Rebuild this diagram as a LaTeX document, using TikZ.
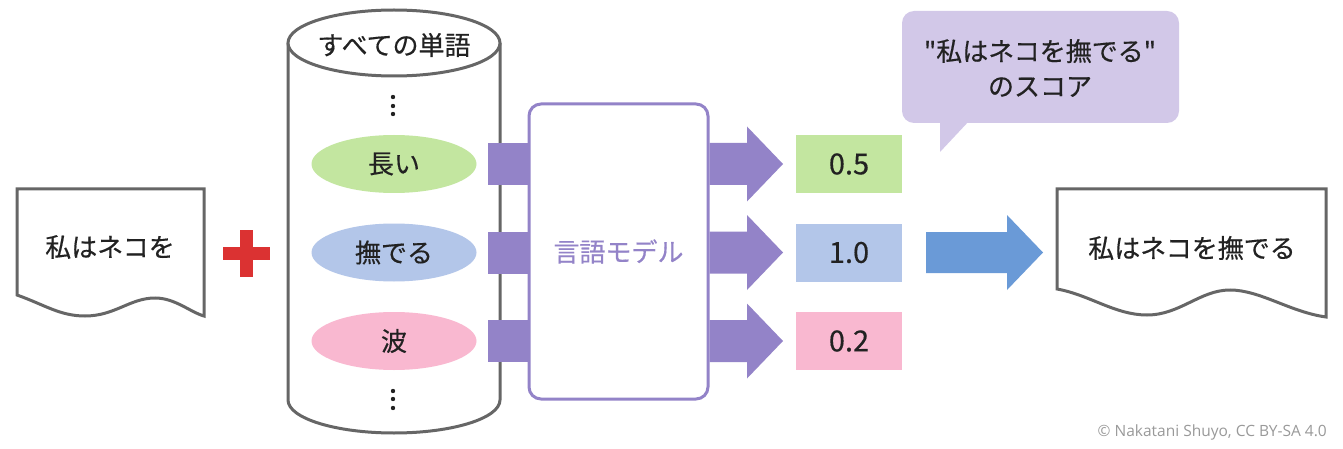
\documentclass[tikz,border=0pt]{standalone}
\usepackage{fontspec}
\setmainfont{Noto Sans CJK JP}[Ligatures=TeXOff, FakeBold=0.4]
\newfontfamily\latinfont{Open Sans}
\usetikzlibrary{shapes.geometric}
\definecolor{docgray}{HTML}{666666}
\definecolor{plusred}{HTML}{DB3232}
\definecolor{mpurple}{HTML}{9383C8}
\definecolor{wgreen}{HTML}{C3E6A0}
\definecolor{wblue}{HTML}{B3C6E9}
\definecolor{wpink}{HTML}{F9B8D0}
\definecolor{barrow}{HTML}{6A9AD7}
\definecolor{bubble}{HTML}{D2C8E8}
\definecolor{txt}{HTML}{222222}
\definecolor{copy}{HTML}{999999}
\begin{document}
\begin{tikzpicture}[x=1pt,y=-1pt,
  jtext/.style={font=\fontsize{26}{35}\selectfont, text=txt, inner sep=0pt},
  wordell/.style={ellipse, minimum width=165, minimum height=58, inner sep=0pt, font=\fontsize{26}{32}\selectfont, text=txt},
  scorebox/.style={rectangle, minimum width=106, minimum height=58, inner sep=0pt, font=\fontsize{29}{32}\selectfont, text=txt},
  docline/.style={draw=docgray, line width=3, fill=white, line join=miter},
  dotmark/.style={fill=txt}
]
\useasboundingbox (0,0) rectangle (1343,449);

% left document
\draw[docline] (17,295) -- (17,189) -- (204,189) -- (204,316)
  .. controls (190,312) and (175,298) .. (155,298)
  .. controls (130,298) and (115,316) .. (85,316)
  .. controls (60,316) and (45,305) .. (17,295) -- cycle;
\node[jtext] (src) at (110,247) {私はネコを};

% plus
\fill[plusred] (223,247) rectangle (270,260);
\fill[plusred] (240,230) rectangle (253,277);

% cylinder
\draw[docline] (288,43) -- (288,400) arc[start angle=180, end angle=0, x radius=106, y radius=33] -- (500,43);
\draw[docline] (394,43) ellipse[x radius=106, y radius=33];
\node[jtext] (allw) at (394,45) {すべての単語};
\foreach \yy in {97,106,114,391,399,408} \fill[dotmark] (393,\yy) circle[radius=2.2];

\node[wordell, fill=wgreen] (w1) at (394,164) {長い};
\node[wordell, fill=wblue] (w2) at (394,252.5) {撫でる};
\node[wordell, fill=wpink] (w3) at (394,341) {波};

% input bars
\foreach \c in {164,252.5,341} \fill[mpurple] (488,\c-21) rectangle (531,\c+21);

% model
\node[draw=mpurple, line width=3, rounded corners=12, minimum width=179, minimum height=295, fill=white,
  font=\fontsize{26}{32}\selectfont, text=mpurple] (lm) at (618.5,251.5) {言語モデル};

% output arrows
\foreach \c in {164,252.5,341}
  \fill[mpurple] (lm.east |- 0,\c-21) -- (747,\c-21) -- (747,\c-37.5) -- (783,\c) -- (747,\c+37.5) -- (747,\c+21) -- (lm.east |- 0,\c+21) -- cycle;

% scores
\node[scorebox, fill=wgreen] (s1) at (849,164) {0.5};
\node[scorebox, fill=wblue] (s2) at (849,252.5) {1.0};
\node[scorebox, fill=wpink] (s3) at (849,341) {0.2};

% blue arrow
\fill[barrow] (926,232) -- (1007,232) -- (1007,215) -- (1043,252.5) -- (1007,290) -- (1007,273) -- (926,273) -- cycle;

% speech bubble
\fill[bubble, rounded corners=12] (902,11) rectangle (1179,123);
\fill[bubble] (940,120) -- (940,152) -- (970,120) -- cycle;
\node[jtext, align=center] (bub) at (1040,68) {"私はネコを撫でる"\\のスコア};

% right document
\draw[docline] (1057,289) -- (1057,189) -- (1326,189) -- (1326,317)
  .. controls (1290,312) and (1260,290) .. (1230,290)
  .. controls (1200,290) and (1180,315) .. (1147,315)
  .. controls (1115,315) and (1090,295) .. (1057,289) -- cycle;
\node[jtext] (res) at (1192,248) {私はネコを撫でる};

% copyright
\node[anchor=east, inner sep=0pt, text=copy, font=\latinfont\fontsize{15.5}{18}\selectfont] (cr) at (1327,432) {© Nakatani Shuyo, CC BY-SA 4.0};
\end{tikzpicture}
\end{document}
